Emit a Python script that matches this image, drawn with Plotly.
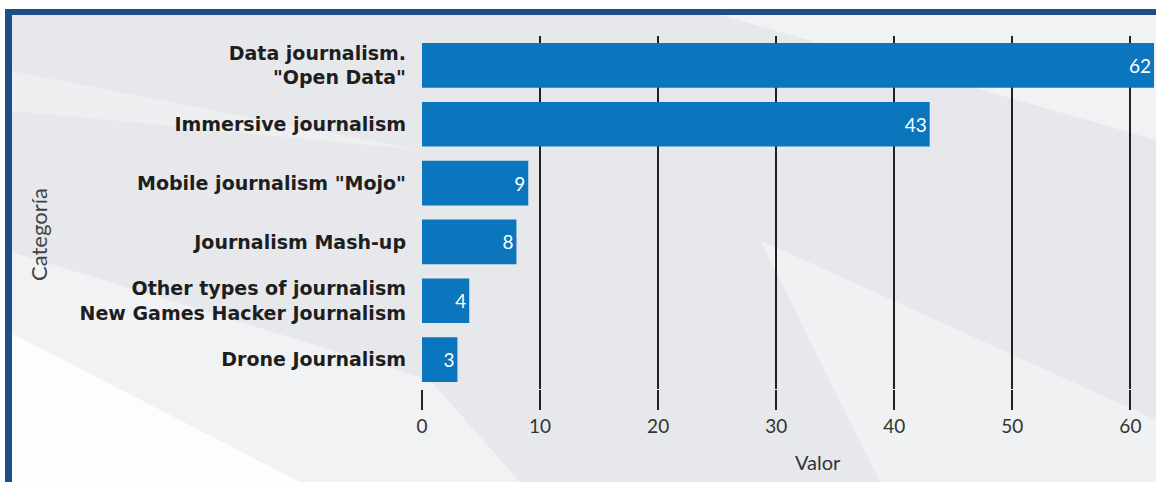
import plotly.graph_objects as go

categories = ["Data journalism.<br>\"Open Data\"", "Immersive journalism", "Mobile journalism \"Mojo\"",
              "Journalism Mash-up", "Other types of journalism<br>New Games Hacker Journalism", "Drone Journalism"]
values = [62, 43, 9, 8, 4, 3]
tick_vals = [0, 10, 20, 30, 40, 50, 60]

W, H = 1156, 482
ML, MR, MT, MB = 422, 2, 36, 93
PW, PH = W - ML - MR, H - MT - MB

def px(x):
    return (x - ML) / PW

def py(y):
    return (H - MB - y) / PH

fig = go.Figure(go.Bar(
    x=values, y=categories, orientation="h",
    marker=dict(color="#0b76bd", line=dict(width=0)),
    text=[str(v) for v in values], textposition="inside", insidetextanchor="end",
    textfont=dict(color="white", size=19, family="Lato"),
    cliponaxis=False,
))

shapes = [
    dict(type="rect", xref="paper", yref="paper", x0=px(5), x1=px(W + 2), y0=py(H + 2), y1=py(9),
         fillcolor="#e6e8eb", line=dict(width=0), layer="below"),
    # light swooshes
    dict(type="path", xref="paper", yref="paper",
         path=f"M {px(5)},{py(330)} L {px(300)},{py(482)} L {px(5)},{py(482)} Z",
         fillcolor="rgba(255,255,255,0.8)", line=dict(width=0), layer="below"),
    dict(type="path", xref="paper", yref="paper",
         path=f"M {px(5)},{py(250)} L {px(430)},{py(380)} L {px(520)},{py(482)} L {px(5)},{py(482)} Z",
         fillcolor="rgba(255,255,255,0.45)", line=dict(width=0), layer="below"),
    dict(type="path", xref="paper", yref="paper",
         path=f"M {px(5)},{py(70)} L {px(420)},{py(150)} L {px(5)},{py(110)} Z",
         fillcolor="rgba(255,255,255,0.3)", line=dict(width=0), layer="below"),
    dict(type="path", xref="paper", yref="paper",
         path=f"M {px(700)},{py(9)} L {px(1156)},{py(9)} L {px(1156)},{py(140)} Z",
         fillcolor="rgba(255,255,255,0.45)", line=dict(width=0), layer="below"),
    dict(type="path", xref="paper", yref="paper",
         path=f"M {px(760)},{py(240)} L {px(1156)},{py(420)} L {px(1156)},{py(482)} L {px(880)},{py(482)} Z",
         fillcolor="rgba(255,255,255,0.4)", line=dict(width=0), layer="below"),
    dict(type="rect", xref="paper", yref="paper", x0=px(5), x1=px(W + 2), y0=py(15), y1=py(9),
         fillcolor="#1f4e85", line=dict(width=0), layer="below"),
    dict(type="rect", xref="paper", yref="paper", x0=px(5), x1=px(12), y0=py(H + 2), y1=py(9),
         fillcolor="#1f4e85", line=dict(width=0), layer="below"),
]

annotations = [
    dict(text="Categoría", xref="paper", yref="paper", x=px(38), y=py(235), textangle=-90,
         showarrow=False, font=dict(family="Lato", size=22, color="#444"), xanchor="center", yanchor="middle"),
    dict(text="Valor", xref="paper", yref="paper", x=px(818), y=py(462),
         showarrow=False, font=dict(family="Lato", size=20, color="#333"), xanchor="center", yanchor="middle"),
]

fig.update_layout(
    width=W, height=H,
    margin=dict(l=ML, r=MR, t=MT, b=MB),
    paper_bgcolor="white", plot_bgcolor="rgba(0,0,0,0)",
    bargap=0.24,
    shapes=shapes, annotations=annotations,
    showlegend=False,
    xaxis=dict(range=[0, 62], tickvals=tick_vals, showgrid=True, gridcolor="#222", gridwidth=1.5,
               zeroline=False, showline=False, ticks="outside", ticklen=20, tickwidth=1.5, tickcolor="#222",
               tickfont=dict(family="Lato", size=19, color="#333"), layer="below traces"),
    yaxis=dict(autorange="reversed", showgrid=False, zeroline=False, showline=False, ticks="",
               ticklabelstandoff=15,
               tickfont=dict(family="DejaVu Sans", size=19, color="#1e1e1e", weight="bold")),
)

fig.write_html("out.html", config={"displayModeBar": False},
               post_script="document.body.style.margin='0';document.body.style.overflow='hidden';")
